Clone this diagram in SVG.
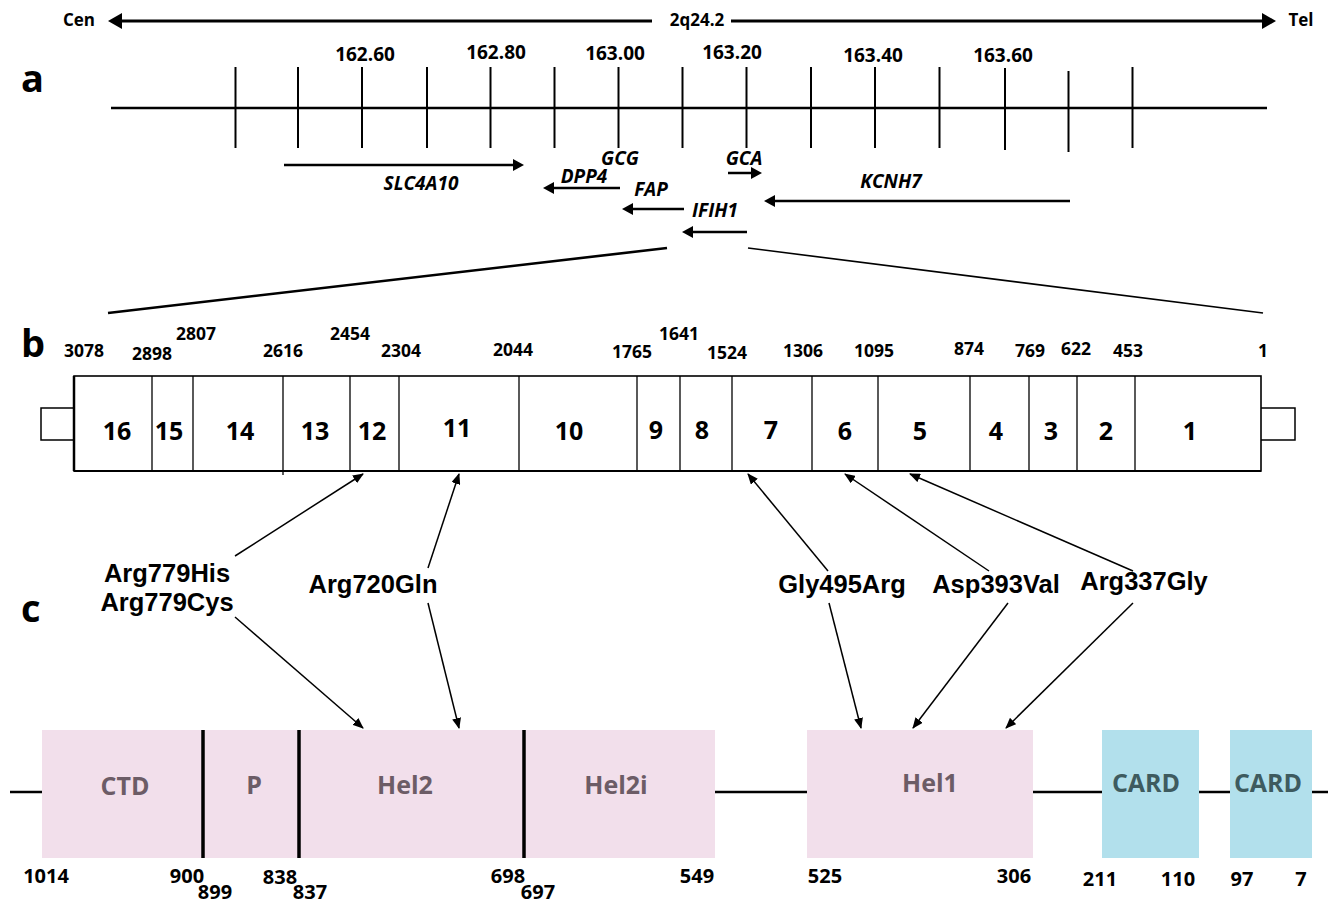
<svg xmlns="http://www.w3.org/2000/svg" width="1331" height="905" viewBox="0 0 1331 905">
<defs>
<style>
text{font-family:"Open Sans","Liberation Sans",sans-serif;font-weight:700;fill:#000}
.sec{font-size:38px}
.chr{font-size:19px;text-anchor:middle}
.end{font-size:17px;text-anchor:middle}
.gene{font-size:19px;font-style:italic;text-anchor:middle}
.bnd{font-size:17.5px;text-anchor:middle}
.ex{font-size:25px;text-anchor:middle}
.mut{font-family:"Liberation Sans",Arial,sans-serif;font-size:25.5px;text-anchor:middle}
.dn{font-size:20px;text-anchor:middle}
.dl{font-size:25px;text-anchor:middle;fill:#6c5c66}
.cl{font-size:25px;text-anchor:middle;fill:#3e5b5f}
.ln{stroke:#000;fill:none}
.pink{fill:#f2dfeb}
.cyan{fill:#b2e0ec}
</style>
<marker id="big" markerUnits="userSpaceOnUse" markerWidth="14" markerHeight="16" refX="1" refY="8" orient="auto"><path d="M0,0 L14,8 L0,16 z" fill="#000"/></marker>
<marker id="gene" markerUnits="userSpaceOnUse" markerWidth="11" markerHeight="12" refX="1" refY="6" orient="auto"><path d="M0,0 L11,6 L0,12 z" fill="#000"/></marker>
<marker id="mut" markerUnits="userSpaceOnUse" markerWidth="11" markerHeight="9" refX="10" refY="4.5" orient="auto"><path d="M0,0 L11,4.5 L0,9 z" fill="#000"/></marker>
</defs>
<rect width="1331" height="905" fill="#fff"/>

<g id="header">
<text class="end" x="79" y="26">Cen</text>
<text class="end" x="697" y="26">2q24.2</text>
<text class="end" x="1301" y="26">Tel</text>
</g>
<text class="sec" x="21" y="92">a</text>
<text class="sec" x="21" y="357">b</text>
<text class="sec" x="21" y="622">c</text>

<g id="chromosome">
<line class="ln" x1="111" y1="108" x2="1267" y2="108" stroke-width="2.5"/>
<g class="ln" stroke-width="2">
<line x1="235.5" y1="67" x2="235.5" y2="148"/>
<line x1="298" y1="67" x2="298" y2="148"/>
<line x1="362" y1="67" x2="362" y2="148"/>
<line x1="427" y1="67" x2="427" y2="148"/>
<line x1="490.5" y1="67" x2="490.5" y2="148"/>
<line x1="554.5" y1="67" x2="554.5" y2="148"/>
<line x1="618.5" y1="67" x2="618.5" y2="148"/>
<line x1="682.5" y1="67" x2="682.5" y2="148"/>
<line x1="746.5" y1="67" x2="746.5" y2="148"/>
<line x1="811" y1="67" x2="811" y2="148"/>
<line x1="875" y1="67" x2="875" y2="148"/>
<line x1="939.5" y1="67" x2="939.5" y2="148"/>
<line x1="1005" y1="68" x2="1005" y2="150"/>
<line x1="1068.5" y1="71" x2="1068.5" y2="152"/>
<line x1="1132.5" y1="67" x2="1132.5" y2="148"/>
</g>
<text class="chr" x="365" y="61">162.60</text>
<text class="chr" x="496" y="59">162.80</text>
<text class="chr" x="615" y="60">163.00</text>
<text class="chr" x="732" y="59">163.20</text>
<text class="chr" x="873" y="62">163.40</text>
<text class="chr" x="1003" y="62">163.60</text>
</g>

<g id="genes">
<text class="gene" x="421" y="190">SLC4A10</text>
<text class="gene" x="620" y="165">GCG</text>
<text class="gene" x="584" y="183">DPP4</text>
<text class="gene" x="651" y="196">FAP</text>
<text class="gene" x="715" y="217">IFIH1</text>
<text class="gene" x="744" y="165">GCA</text>
<text class="gene" x="891" y="188">KCNH7</text>
</g>

<g id="connectors">
<line class="ln" x1="652" y1="21" x2="121" y2="21" stroke-width="3" marker-end="url(#big)"/>
<line class="ln" x1="731" y1="21" x2="1263" y2="21" stroke-width="3" marker-end="url(#big)"/>
<g class="ln" stroke-width="2.5">
<line x1="284" y1="165" x2="514" y2="165" marker-end="url(#gene)"/>
<line x1="620" y1="188" x2="553" y2="188" marker-end="url(#gene)"/>
<line x1="684" y1="209" x2="632" y2="209" marker-end="url(#gene)"/>
<line x1="747" y1="232" x2="692" y2="232" marker-end="url(#gene)"/>
<line x1="728" y1="173" x2="752" y2="173" marker-end="url(#gene)"/>
<line x1="1070" y1="201" x2="774" y2="201" marker-end="url(#gene)"/>
</g>
<line class="ln" x1="667" y1="248" x2="108" y2="313" stroke-width="2.6"/>
<line class="ln" x1="748" y1="248" x2="1263" y2="313" stroke-width="1.6"/>
<g class="ln" stroke-width="1.5" marker-end="url(#mut)">
<line x1="235" y1="556" x2="363" y2="474"/>
<line x1="235" y1="617" x2="363" y2="728"/>
<line x1="428" y1="568" x2="459" y2="474"/>
<line x1="428" y1="603" x2="459" y2="728"/>
<line x1="828" y1="571" x2="748" y2="474"/>
<line x1="829" y1="603" x2="861" y2="728"/>
<line x1="989" y1="571" x2="845" y2="474"/>
<line x1="1008" y1="603" x2="913" y2="728"/>
<line x1="1133" y1="571" x2="910" y2="474"/>
<line x1="1133" y1="603" x2="1006" y2="728"/>
</g>
</g>

<g id="exons">
<path class="ln" d="M74,408 H41 V440 H74 M1261,408 H1295 V440 H1261" stroke-width="1.5"/>
<rect class="ln" x="74" y="376" width="1187" height="95" stroke-width="1.6"/>
<line class="ln" x1="74" y1="471" x2="1261" y2="471" stroke-width="2"/>
<line class="ln" x1="74" y1="376" x2="74" y2="471" stroke-width="2.5"/>
<g class="ln" stroke-width="1.3">
<line x1="152" y1="376" x2="152" y2="471"/>
<line x1="193" y1="376" x2="193" y2="471"/>
<line x1="283" y1="376" x2="283" y2="475"/>
<line x1="350" y1="376" x2="350" y2="471"/>
<line x1="399" y1="376" x2="399" y2="471"/>
<line x1="519" y1="376" x2="519" y2="471"/>
<line x1="637" y1="376" x2="637" y2="471"/>
<line x1="680" y1="376" x2="680" y2="471"/>
<line x1="732" y1="376" x2="732" y2="471"/>
<line x1="812" y1="376" x2="812" y2="471"/>
<line x1="878" y1="376" x2="878" y2="471"/>
<line x1="970" y1="376" x2="970" y2="471"/>
<line x1="1029" y1="376" x2="1029" y2="471"/>
<line x1="1077" y1="376" x2="1077" y2="471"/>
<line x1="1135" y1="376" x2="1135" y2="471"/>
</g>
<text class="ex" x="117" y="440">16</text>
<text class="ex" x="169" y="440">15</text>
<text class="ex" x="240" y="440">14</text>
<text class="ex" x="315" y="440">13</text>
<text class="ex" x="372" y="440">12</text>
<text class="ex" x="457" y="437">11</text>
<text class="ex" x="569" y="440">10</text>
<text class="ex" x="656" y="439">9</text>
<text class="ex" x="702" y="439">8</text>
<text class="ex" x="771" y="439">7</text>
<text class="ex" x="845" y="440">6</text>
<text class="ex" x="920" y="440">5</text>
<text class="ex" x="996" y="440">4</text>
<text class="ex" x="1051" y="440">3</text>
<text class="ex" x="1106" y="440">2</text>
<text class="ex" x="1190" y="440">1</text>
</g>

<g id="boundaries">
<text class="bnd" x="84" y="357">3078</text>
<text class="bnd" x="152" y="360">2898</text>
<text class="bnd" x="196" y="340">2807</text>
<text class="bnd" x="283" y="357">2616</text>
<text class="bnd" x="350" y="340">2454</text>
<text class="bnd" x="401" y="357">2304</text>
<text class="bnd" x="513" y="356">2044</text>
<text class="bnd" x="632" y="358">1765</text>
<text class="bnd" x="679" y="340">1641</text>
<text class="bnd" x="727" y="359">1524</text>
<text class="bnd" x="803" y="357">1306</text>
<text class="bnd" x="874" y="357">1095</text>
<text class="bnd" x="969" y="355">874</text>
<text class="bnd" x="1030" y="357">769</text>
<text class="bnd" x="1076" y="355">622</text>
<text class="bnd" x="1128" y="357">453</text>
<text class="bnd" x="1263" y="357">1</text>
</g>

<g id="mutations">
<text class="mut" x="167" y="582">Arg779His</text>
<text class="mut" x="167" y="611">Arg779Cys</text>
<text class="mut" x="373" y="593">Arg720Gln</text>
<text class="mut" x="842" y="593">Gly495Arg</text>
<text class="mut" x="996" y="593">Asp393Val</text>
<text class="mut" x="1144" y="590">Arg337Gly</text>
</g>

<g id="domains">
<line class="ln" x1="10" y1="792" x2="1328" y2="792" stroke-width="2.5"/>
<rect class="pink" x="42" y="730" width="673" height="128"/>
<rect class="pink" x="807" y="730" width="226" height="128"/>
<rect class="cyan" x="1102" y="730" width="97" height="128"/>
<rect class="cyan" x="1230" y="730" width="82" height="128"/>
<g class="ln" stroke-width="3.5">
<line x1="203" y1="730" x2="203" y2="858"/>
<line x1="299" y1="730" x2="299" y2="858"/>
<line x1="524" y1="730" x2="524" y2="858"/>
</g>
<text class="dl" x="125" y="795">CTD</text>
<text class="dl" x="254" y="794">P</text>
<text class="dl" x="405" y="794">Hel2</text>
<text class="dl" x="616" y="794">Hel2i</text>
<text class="dl" x="930" y="792">Hel1</text>
<text class="cl" x="1146" y="792">CARD</text>
<text class="cl" x="1268" y="792">CARD</text>
</g>

<g id="domain-numbers">
<text class="dn" x="46" y="883">1014</text>
<text class="dn" x="187" y="883">900</text>
<text class="dn" x="215" y="899">899</text>
<text class="dn" x="280" y="884">838</text>
<text class="dn" x="310" y="899">837</text>
<text class="dn" x="508" y="883">698</text>
<text class="dn" x="538" y="899">697</text>
<text class="dn" x="697" y="883">549</text>
<text class="dn" x="825" y="883">525</text>
<text class="dn" x="1014" y="883">306</text>
<text class="dn" x="1100" y="886">211</text>
<text class="dn" x="1178" y="886">110</text>
<text class="dn" x="1242" y="886">97</text>
<text class="dn" x="1301" y="886">7</text>
</g>
</svg>
